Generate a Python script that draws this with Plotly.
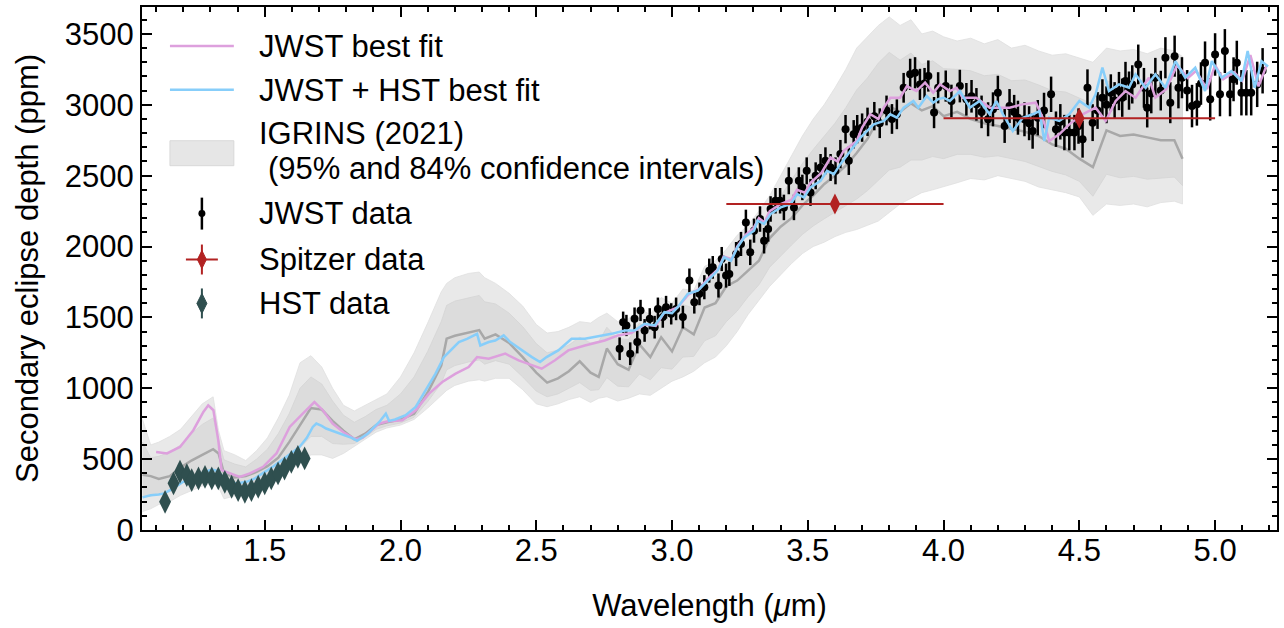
import plotly.graph_objects as go

# ---------------- data ----------------
# IGRINS (2021) retrieved spectrum: median and confidence envelopes
ig_wl = [1.05, 1.08, 1.11, 1.15, 1.19, 1.23, 1.27, 1.31, 1.33, 1.35, 1.39, 1.43, 1.47, 1.51, 1.55,
         1.59, 1.63, 1.67, 1.71, 1.75, 1.79, 1.83, 1.87, 1.91, 1.95, 2.0, 2.05, 2.1, 2.15, 2.17,
         2.2, 2.25, 2.29, 2.31, 2.35, 2.4, 2.45, 2.5, 2.54, 2.58, 2.62, 2.66, 2.7, 2.73, 2.76,
         2.8, 2.84, 2.88, 2.92, 2.96, 3.0, 3.04, 3.08, 3.12, 3.16, 3.2, 3.24, 3.28, 3.32, 3.36,
         3.4, 3.44, 3.48, 3.52, 3.56, 3.6, 3.64, 3.68, 3.72, 3.76, 3.8, 3.84, 3.88, 3.92, 3.96,
         4.0, 4.05, 4.1, 4.15, 4.2, 4.25, 4.3, 4.35, 4.4, 4.45, 4.5, 4.55, 4.6, 4.65, 4.7,
         4.75, 4.8, 4.85, 4.88]
ig_med = [390, 380, 360, 380, 440, 490, 530, 570, 540, 400, 370, 380, 410, 450, 510,
          620, 740, 860, 850, 770, 700, 640, 680, 740, 760, 780, 820, 970, 1160, 1350,
          1370, 1390, 1410, 1350, 1380, 1320, 1220, 1110, 1040, 1070, 1120, 1190, 1110, 1080, 1280,
          1170, 1130, 1310, 1220, 1360, 1260, 1430, 1380, 1570, 1600, 1720, 1760, 1830, 1900, 2060,
          2140, 2200, 2290, 2360, 2440, 2500, 2570, 2660, 2760, 2900, 2990, 2950, 3010, 2960, 2990,
          2920, 2950, 2900, 2870, 2850, 2830, 2810, 2780, 2720, 2690, 2620, 2560, 2820, 2780, 2790,
          2770, 2750, 2750, 2620]
ig_hi95 = [780, 600, 620, 660, 710, 800, 890, 940, 700, 560, 530, 490, 560, 650, 790,
           950, 1180, 1230, 1150, 1000, 880, 840, 880, 920, 960, 1080, 1250, 1460, 1680, 1740,
           1780, 1810, 1820, 1780, 1740, 1670, 1580, 1450, 1390, 1400, 1430, 1470, 1460, 1500, 1530,
           1470, 1490, 1560, 1520, 1640, 1600, 1700, 1690, 1860, 1900, 1980, 2080, 2150, 2250, 2360,
           2500, 2650, 2780, 2900, 3000, 3120, 3250, 3400, 3480, 3560, 3620, 3560, 3600, 3500, 3520,
           3480, 3450, 3470, 3430, 3460, 3400, 3420, 3380, 3350, 3360, 3330, 3300, 3400, 3380, 3390,
           3360, 3400, 3380, 3340]
ig_lo95 = [130, 150, 180, 200, 245, 280, 310, 330, 300, 220, 240, 270, 290, 320, 370,
           420, 470, 530, 530, 505, 540, 590, 640, 690, 720, 740, 780, 860, 950, 985,
           1020, 1050, 1060, 1050, 1070, 1070, 990, 890, 870, 890, 920, 940, 900, 930, 940,
           910, 930, 960, 950, 1000, 1050, 1080, 1120, 1180, 1220, 1300, 1400, 1520, 1620, 1720,
           1800, 1880, 1950, 2000, 2030, 2070, 2100, 2120, 2150, 2180, 2240, 2300, 2340, 2380, 2400,
           2420, 2450, 2480, 2470, 2500, 2480, 2460, 2420, 2400, 2380, 2350, 2220, 2300, 2290, 2300,
           2280, 2310, 2320, 2300]
ig_hi84 = [620, 510, 520, 550, 600, 680, 745, 790, 635, 495, 465, 445, 500, 570, 680,
           820, 1000, 1080, 1030, 910, 810, 760, 800, 850, 880, 960, 1080, 1260, 1470, 1585,
           1615, 1640, 1655, 1610, 1595, 1530, 1435, 1315, 1250, 1270, 1305, 1360, 1320, 1330, 1430,
           1350, 1345, 1460, 1400, 1530, 1465, 1590, 1565, 1745, 1780, 1875, 1950, 2020, 2110, 2240,
           2355, 2470, 2585, 2685, 2775, 2870, 2980, 3105, 3190, 3295, 3370, 3315, 3365, 3285, 3310,
           3255, 3250, 3240, 3205, 3215, 3170, 3175, 3140, 3100, 3090, 3045, 3005, 3170, 3140, 3150,
           3125, 3140, 3130, 3050]
ig_lo84 = [235, 240, 250, 270, 325, 365, 400, 425, 395, 290, 290, 315, 340, 370, 425,
           500, 580, 660, 660, 610, 605, 610, 655, 710, 735, 755, 795, 905, 1035, 1130,
           1160, 1185, 1200, 1170, 1195, 1170, 1080, 980, 940, 960, 1000, 1040, 985, 990, 1075,
           1015, 1010, 1100, 1060, 1145, 1135, 1220, 1225, 1335, 1370, 1470, 1545, 1645, 1730, 1855,
           1935, 2010, 2085, 2145, 2195, 2240, 2290, 2335, 2395, 2470, 2540, 2560, 2610, 2610, 2635,
           2620, 2650, 2650, 2630, 2640, 2620, 2600, 2565, 2530, 2505, 2460, 2355, 2510, 2485, 2495,
           2475, 2485, 2490, 2430]

# JWST best-fit model
fit_jwst_wl = [1.1, 1.14, 1.188, 1.237, 1.274, 1.292, 1.311, 1.329, 1.341, 1.372, 1.408, 1.445, 1.494,
               1.543, 1.592, 1.64, 1.683, 1.714, 1.75, 1.79, 1.833, 1.86, 1.9, 1.92, 1.95, 2.007,
               2.056, 2.105, 2.154, 2.203, 2.251, 2.282, 2.325, 2.386, 2.435, 2.484, 2.52, 2.569,
               2.618, 2.679, 2.752, 2.801, 2.85, 2.9, 2.94, 2.97, 3.02, 3.06, 3.1, 3.13, 3.17, 3.19,
               3.22, 3.24, 3.27, 3.3, 3.32, 3.34, 3.36, 3.4, 3.44, 3.46, 3.49, 3.51, 3.55, 3.584,
               3.61, 3.632, 3.68, 3.7, 3.73, 3.76, 3.78, 3.804, 3.84, 3.865, 3.9, 3.932, 3.962,
               3.987, 4.023, 4.048, 4.07, 4.12, 4.17, 4.243, 4.29, 4.34, 4.365, 4.389, 4.426,
               4.463, 4.512, 4.56, 4.597, 4.634, 4.67, 4.707, 4.756, 4.78, 4.82, 4.86, 4.9, 4.93,
               4.97, 5.0, 5.03, 5.07, 5.1, 5.13, 5.16, 5.19]
fit_jwst_ppm = [551, 540, 586, 704, 833, 880, 845, 633, 422, 399, 375, 399, 446,
                540, 727, 821, 903, 845, 751, 690, 640, 650, 720, 750, 765, 774,
                845, 962, 1044, 1103, 1150, 1220, 1208, 1244, 1197, 1161, 1138, 1197,
                1267, 1302, 1337, 1373, 1390, 1450, 1440, 1530, 1570, 1660, 1700, 1770, 1840, 1930,
                1910, 2000, 2080, 2130, 2200, 2170, 2250, 2300, 2330, 2400, 2380, 2450, 2520, 2628,
                2600, 2675, 2745, 2840, 2933, 2900, 2980, 3050, 3050, 3132, 3097, 3156, 3085,
                3144, 3097, 3120, 3050, 3050, 2980, 2980, 3003, 3015, 2909, 2745, 2792,
                2862, 2933, 2980, 2886, 3027, 3097, 3050, 3191, 3050, 3110, 3280, 3190, 3240,
                3110, 3280, 3180, 3230, 3170, 3350, 3130, 3280]

# JWST + HST best-fit model
fit_joint_wl = [1.05, 1.08, 1.11, 1.13, 1.16, 1.2, 1.23, 1.25, 1.28, 1.305, 1.32, 1.335, 1.36, 1.396,
                1.433, 1.46, 1.482, 1.51, 1.53, 1.58, 1.628, 1.655, 1.677, 1.69, 1.71, 1.726, 1.75,
                1.775, 1.8, 1.82, 1.84, 1.86, 1.88, 1.9, 1.922, 1.946, 1.958, 1.98, 2.019, 2.056,
                2.093, 2.129, 2.16, 2.184, 2.215, 2.245, 2.282, 2.294, 2.325, 2.349, 2.38, 2.404,
                2.447, 2.484, 2.514, 2.538, 2.581, 2.63, 2.679, 2.728, 2.777, 2.826, 2.862, 2.899,
                2.936, 2.972, 3.0, 3.021, 3.058, 3.095, 3.131, 3.168, 3.192, 3.217, 3.241, 3.266,
                3.302, 3.315, 3.339, 3.363, 3.4, 3.437, 3.461, 3.486, 3.51, 3.547, 3.571, 3.596,
                3.62, 3.657, 3.694, 3.718, 3.743, 3.78, 3.804, 3.828, 3.853, 3.889, 3.907, 3.938,
                3.962, 3.98, 4.0, 4.023, 4.06, 4.097, 4.133, 4.17, 4.194, 4.219, 4.255, 4.292,
                4.328, 4.353, 4.371, 4.389, 4.426, 4.463, 4.5, 4.536, 4.56, 4.585, 4.609, 4.646,
                4.683, 4.707, 4.744, 4.78, 4.817, 4.854, 4.89, 4.927, 4.963, 4.988, 5.024, 5.06,
                5.097, 5.12, 5.146, 5.171, 5.195]
fit_joint_ppm = [230, 245, 250, 258, 290, 340, 365, 387, 410, 427, 420, 399, 340, 329,
                 340, 360, 387, 420, 446, 516, 586, 650, 727, 751, 735, 716, 700,
                 680, 665, 650, 630, 655, 680, 720, 762, 821, 770, 780, 810, 868,
                 985, 1103, 1220, 1267, 1326, 1349, 1384, 1302, 1326, 1337, 1373, 1326,
                 1267, 1220, 1185, 1220, 1267, 1349, 1349, 1366, 1384, 1408, 1408, 1455,
                 1443, 1537, 1530, 1572, 1666, 1689, 1760, 1830, 1924, 1900, 1994, 2064,
                 2112, 2182, 2159, 2229, 2276, 2300, 2370, 2346, 2417, 2464, 2534, 2511,
                 2581, 2675, 2768, 2815, 2862, 2886, 2933, 2909, 2980, 3027, 2980, 3062,
                 3015, 3040, 3050, 3027, 3097, 2980, 3027, 2933, 3027, 2933, 2815, 2909,
                 2933, 2956, 2745, 2909, 2886, 2933, 3027, 2980, 3074, 3262, 3097, 3144,
                 3120, 3215, 3120, 3215, 3120, 3308, 3191, 3262, 3097, 3308, 3191, 3238,
                 3167, 3379, 3120, 3308, 3270]

# JWST eclipse depths
jwst_wl = [2.807, 2.82, 2.832, 2.846, 2.862, 2.872, 2.884, 2.899, 2.918, 2.936, 2.948, 2.966, 2.978,
           2.997, 3.015, 3.04, 3.064, 3.082, 3.101, 3.119, 3.137, 3.15, 3.171, 3.183, 3.199, 3.211,
           3.236, 3.254, 3.272, 3.288, 3.302, 3.324, 3.339, 3.354, 3.363, 3.381, 3.398, 3.412, 3.43,
           3.449, 3.467, 3.48, 3.496, 3.51, 3.529, 3.547, 3.565, 3.584, 3.602, 3.62, 3.639, 3.651,
           3.669, 3.682, 3.70, 3.72, 3.745, 3.765, 3.79, 3.81, 3.828, 3.853, 3.877, 3.895, 3.913,
           3.93, 3.944, 3.965, 3.98, 4.008, 4.029, 4.06, 4.084, 4.103, 4.121, 4.14, 4.164, 4.182,
           4.2, 4.225, 4.243, 4.26, 4.274, 4.298, 4.315, 4.328, 4.347, 4.37, 4.396, 4.414, 4.43,
           4.445, 4.463, 4.482, 4.497, 4.512, 4.53, 4.549, 4.567, 4.585, 4.6, 4.616, 4.63, 4.646,
           4.658, 4.67, 4.683, 4.695, 4.717, 4.738, 4.75, 4.765, 4.78, 4.8, 4.817, 4.835, 4.851,
           4.865, 4.878, 4.897, 4.915, 4.933, 4.948, 4.963, 4.982, 5.0, 5.018, 5.036, 5.055, 5.068,
           5.08, 5.097, 5.115, 5.133, 5.155, 5.175]
jwst_ppm = [1279, 1466, 1443, 1244, 1490, 1326, 1549, 1408, 1490, 1431, 1560, 1502, 1572,
            1525, 1560, 1502, 1760, 1607, 1666, 1713, 1830, 1853, 1725, 1912, 1795, 1807,
            1947, 2018, 2170, 1959, 2112, 2194, 2041, 2124, 2265, 2323, 2323, 2276, 2464,
            2276, 2464, 2417, 2534, 2382, 2499, 2558, 2605, 2558, 2534, 2652, 2828, 2605,
            2792, 2828, 2839, 2880, 2920, 2870, 2960, 2900, 2933, 3120, 3215, 3226, 3144,
            3150, 3203, 2945, 3120, 3132, 3027, 3132, 3039, 3060, 3003, 2950, 2898, 2968,
            3085, 2851, 2991, 2950, 2909, 2898, 2870, 2815, 2909, 2960, 3074, 2828, 2880,
            2804, 2804, 2804, 2850, 2757, 3120, 2874, 2960, 3050, 3000, 3085, 3030, 3097,
            3050, 3168, 3100, 3144, 3285, 3120, 2980, 3080, 3191, 3100, 3332, 3015, 3343,
            3120, 3191, 3100, 2991, 3003, 3150, 3297, 3039, 3355, 3074, 3379, 3074, 3180,
            3297, 3085, 3085, 3085, 3144, 3240]
jwst_err = [80, 75, 75, 80, 80, 80, 75, 80, 75, 80, 80, 75, 80,
            75, 80, 80, 85, 80, 80, 85, 85, 80, 85, 85, 85, 85,
            85, 85, 90, 90, 85, 90, 90, 90, 90, 90, 90, 90, 95,
            90, 95, 90, 95, 95, 95, 95, 95, 95, 95, 100, 100, 100,
            100, 100, 100, 100, 100, 105, 105, 105, 105, 105, 110, 110, 110,
            110, 110, 110, 110, 110, 115, 115, 115, 115, 115, 115, 120, 120,
            120, 120, 120, 120, 120, 120, 120, 125, 125, 125, 125, 125, 125,
            125, 125, 125, 125, 130, 130, 130, 130, 130, 130, 130, 130, 135,
            135, 135, 135, 135, 140, 140, 140, 140, 140, 140, 145, 145, 145,
            145, 145, 145, 150, 150, 150, 150, 150, 150, 155, 155, 155, 155,
            155, 160, 160, 160, 160, 160]

# Spitzer photometry (3.6 and 4.5 micron channels)
spitzer_wl = [3.6, 4.5]
spitzer_ppm = [2300, 2905]
spitzer_wl_halfwidth = [0.4, 0.5]
spitzer_err = [35, 40]

# HST WFC3 spectrum
hst_wl = [1.133, 1.164, 1.188, 1.213, 1.231, 1.256, 1.28, 1.305, 1.329, 1.353, 1.378, 1.402,
          1.427, 1.451, 1.476, 1.50, 1.524, 1.549, 1.573, 1.598, 1.622, 1.647]
hst_ppm = [199, 329, 411, 387, 352, 364, 375, 364, 364, 340, 305, 282,
           270, 282, 305, 329, 364, 399, 434, 481, 516, 505]
hst_err = [45, 40, 40, 40, 40, 40, 40, 40, 40, 40, 40, 40,
           40, 40, 40, 40, 40, 40, 40, 40, 40, 45]

# ---------------- styling ----------------
FONT = "Arial, 'Liberation Sans', Helvetica, sans-serif"
FS = 31
LW = 2.5
C_PINK = "#DDA0DD"
C_BLUE = "#87CEFA"
C_MED = "#a8a8a8"
C_OUT = "#e9e9e9"
C_IN = "#dcdcdc"
C_SPITZER = "#B22222"
C_HST = "#2F4F4F"

fig = go.Figure()

fig.add_trace(go.Scatter(x=ig_wl + ig_wl[::-1], y=ig_hi95 + ig_lo95[::-1], fill="toself",
                         fillcolor=C_OUT, line=dict(width=0.8, color="#e0e0e0"),
                         mode="lines", hoverinfo="skip", showlegend=False))
fig.add_trace(go.Scatter(x=ig_wl + ig_wl[::-1], y=ig_hi84 + ig_lo84[::-1], fill="toself",
                         fillcolor=C_IN, line=dict(width=0.8, color="#d4d4d4"),
                         mode="lines", hoverinfo="skip", showlegend=False))
fig.add_trace(go.Scatter(x=ig_wl, y=ig_med, mode="lines", line=dict(color=C_MED, width=LW),
                         showlegend=False))

fig.add_trace(go.Scatter(x=jwst_wl, y=jwst_ppm, mode="markers",
                         marker=dict(color="black", size=8),
                         error_y=dict(type="data", array=jwst_err, color="black",
                                      thickness=2.5, width=0),
                         showlegend=False))

fig.add_trace(go.Scatter(x=fit_jwst_wl, y=fit_jwst_ppm, mode="lines",
                         line=dict(color=C_PINK, width=LW), showlegend=False))
fig.add_trace(go.Scatter(x=fit_joint_wl, y=fit_joint_ppm, mode="lines",
                         line=dict(color=C_BLUE, width=LW), showlegend=False))

fig.add_trace(go.Scatter(x=spitzer_wl, y=spitzer_ppm, mode="markers",
                         marker=dict(color=C_SPITZER, size=15, symbol="diamond-tall"),
                         error_x=dict(type="data", array=spitzer_wl_halfwidth, color=C_SPITZER,
                                      thickness=2, width=0),
                         error_y=dict(type="data", array=spitzer_err, color=C_SPITZER,
                                      thickness=2, width=0),
                         showlegend=False))

fig.add_trace(go.Scatter(x=hst_wl, y=hst_ppm, mode="markers",
                         marker=dict(color=C_HST, size=17, symbol="diamond-tall"),
                         error_y=dict(type="data", array=hst_err, color=C_HST,
                                      thickness=2, width=0),
                         showlegend=False))

# ---------------- custom legend (pixel layout -> paper coords) ----------------
L, R, T, B = 142, 1279, 6, 530


def px(v):
    return (v - L) / (R - L)


def py(v):
    return (B - v) / (B - T)


shapes = []
annots = []
TX = 257


def label(text, y, x=TX):
    annots.append(dict(x=px(x), y=py(y), xref="paper", yref="paper", text=text,
                       showarrow=False, xanchor="left", yanchor="middle",
                       font=dict(size=FS, color="black", family=FONT)))


shapes.append(dict(type="line", xref="paper", yref="paper", x0=px(170), x1=px(234),
                   y0=py(45), y1=py(45), line=dict(color=C_PINK, width=LW)))
label("JWST best fit", 46)
shapes.append(dict(type="line", xref="paper", yref="paper", x0=px(170), x1=px(234),
                   y0=py(89), y1=py(89), line=dict(color=C_BLUE, width=LW)))
label("JWST + HST best fit", 90)
shapes.append(dict(type="rect", xref="paper", yref="paper", x0=px(170), x1=px(234),
                   y0=py(165), y1=py(140), fillcolor="#e6e6e6",
                   line=dict(color="#d8d8d8", width=1)))
label("IGRINS (2021)", 133)
label("(95% and 84% confidence intervals)", 168, x=266)

shapes.append(dict(type="line", xref="paper", yref="paper", x0=px(202), x1=px(202),
                   y0=py(197), y1=py(229), line=dict(color="black", width=2.5)))
shapes.append(dict(type="circle", xref="paper", yref="paper", x0=px(198.5), x1=px(205.5),
                   y0=py(216.5), y1=py(209.5), fillcolor="black", line=dict(color="black", width=0)))
label("JWST data", 213)

shapes.append(dict(type="line", xref="paper", yref="paper", x0=px(186), x1=px(218),
                   y0=py(259), y1=py(259), line=dict(color=C_SPITZER, width=2)))
shapes.append(dict(type="line", xref="paper", yref="paper", x0=px(202), x1=px(202),
                   y0=py(244), y1=py(274), line=dict(color=C_SPITZER, width=2)))
shapes.append(dict(type="path", xref="paper", yref="paper",
                   path=f"M {px(202)},{py(250)} L {px(206.5)},{py(259)} L {px(202)},{py(268)} "
                        f"L {px(197.5)},{py(259)} Z",
                   fillcolor=C_SPITZER, line=dict(color=C_SPITZER, width=1)))
label("Spitzer data", 259)

shapes.append(dict(type="line", xref="paper", yref="paper", x0=px(202), x1=px(202),
                   y0=py(288), y1=py(318), line=dict(color=C_HST, width=2)))
shapes.append(dict(type="path", xref="paper", yref="paper",
                   path=f"M {px(202)},{py(293)} L {px(207)},{py(303)} L {px(202)},{py(313)} "
                        f"L {px(197)},{py(303)} Z",
                   fillcolor=C_HST, line=dict(color=C_HST, width=1)))
label("HST data", 303)

axis_common = dict(showline=True, linecolor="black", linewidth=2, mirror="ticks",
                   ticks="inside", ticklen=10, tickwidth=2, tickcolor="black",
                   showgrid=False, zeroline=False,
                   tickfont=dict(size=FS, color="black", family=FONT))

fig.update_layout(
    width=1284, height=628,
    margin=dict(l=L, r=1284 - R, t=T, b=628 - B),
    paper_bgcolor="white", plot_bgcolor="white",
    font=dict(family=FONT, size=FS, color="black"),
    showlegend=False,
    shapes=shapes, annotations=annots,
    xaxis=dict(range=[1.048, 5.228], dtick=0.5, tick0=0, tickformat=".1f",
               ticklabelstandoff=-8,
               minor=dict(ticks="inside", dtick=0.1, ticklen=5, tickwidth=1.5, tickcolor="black"),
               title=dict(text="Wavelength (<i>μ</i>m)", standoff=27,
                          font=dict(size=FS, family=FONT, color="black")),
               **axis_common),
    yaxis=dict(range=[0, 3690], dtick=500, tick0=0,
               minor=dict(ticks="inside", dtick=100, ticklen=5, tickwidth=1.5, tickcolor="black"),
               title=dict(text="Secondary eclipse depth (ppm)", standoff=17,
                          font=dict(size=FS, family=FONT, color="black")),
               **axis_common),
)

fig.write_html("out.html", config={"displayModeBar": False},
               post_script="document.body.style.margin='0px';"
                           "document.body.style.overflow='hidden';")
